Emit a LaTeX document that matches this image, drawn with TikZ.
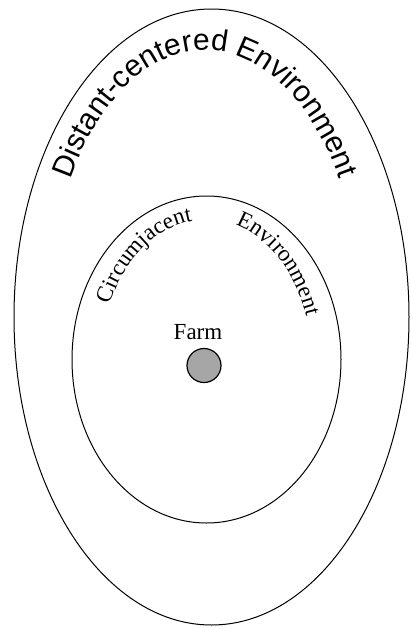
\documentclass[tikz,border=0pt]{standalone}
\usepackage{fontspec}
\setmainfont{Liberation Serif}
\setsansfont{Liberation Sans}
\usetikzlibrary{positioning, decorations.text}

\begin{document}
\begin{tikzpicture}[
  x=1pt, y=1pt,
  ring/.style={draw, line width=1pt},
  farmdot/.style={circle, draw, line width=1.2pt, fill=black!35,
                  minimum size=34pt, inner sep=0pt},
  lab/.style={font=\fontsize{23}{25}\selectfont, inner sep=0pt},
  arctext/.style={decorate, decoration={text along path, #1}}
]
  \useasboundingbox (0,0) rectangle (410,-627);

  \coordinate (oc) at (211.5,-317);
  \coordinate (ic) at (206.5,-359.5);
  \coordinate (tc) at (205,-317);

  \draw[ring] (oc) ellipse [x radius=197.5pt, y radius=308pt];
  \draw[ring] (ic) ellipse [x radius=134.5pt, y radius=163.5pt];

  \node[farmdot] (dot) at (204,-365.5) {};
  \node[lab, above=7.5pt of dot, xshift=-6pt] (farm) {Farm};

  % labels along the rings
  \path[arctext={text align=center,
      text={|\sffamily\fontsize{30}{32}\selectfont|Distant-centered Environment}}]
    ([shift={(165:157pt and 267pt)}]tc)
    arc[start angle=165, end angle=15, x radius=157pt, y radius=267pt];
  \path[arctext={text align=left,
      text={|\fontsize{23}{25}\selectfont|Circumjacent}}]
    ([shift={(157:105pt and 140pt)}]ic)
    arc[start angle=157, end angle=85, x radius=105pt, y radius=140pt];
  \path[arctext={text align=left,
      text={|\fontsize{23}{25}\selectfont|Environment}}]
    ([shift={(74:105pt and 140pt)}]ic)
    arc[start angle=74, end angle=0, x radius=105pt, y radius=140pt];
\end{tikzpicture}
\end{document}
